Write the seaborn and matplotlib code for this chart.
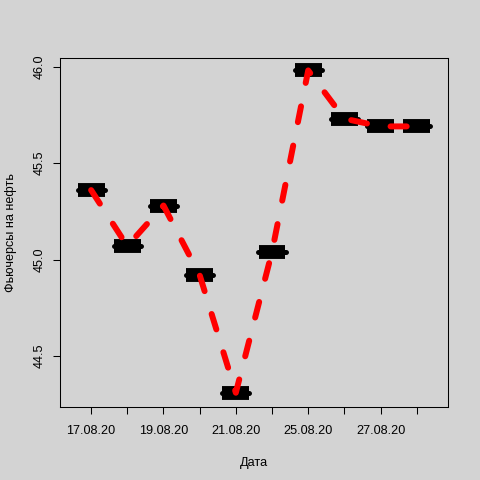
import numpy as np
import pandas as pd
import matplotlib
matplotlib.use("Agg")
import matplotlib.pyplot as plt
import seaborn as sns

# -----------------------------
# Data
# -----------------------------
dates = ["17.08.20", "18.08.20", "19.08.20", "20.08.20", "21.08.20",
         "24.08.20", "25.08.20", "26.08.20", "27.08.20", "28.08.20"]
prices = [45.36, 45.07, 45.28, 44.92, 44.31, 45.04, 45.98, 45.73, 45.69, 45.69]
y_ticks = [44.5, 45.0, 45.5, 46.0]

df = pd.DataFrame({"idx": np.arange(1, len(dates) + 1), "price": prices})

# -----------------------------
# Style
# -----------------------------
bg = "#D3D3D3"
sns.set_style("ticks", {"axes.facecolor": bg, "figure.facecolor": bg,
                        "axes.edgecolor": "black", "text.color": "black",
                        "axes.labelcolor": "black", "xtick.color": "black",
                        "ytick.color": "black"})
plt.rcParams["font.family"] = ["Liberation Sans", "DejaVu Sans"]
fs = 9.1

fig = plt.figure(figsize=(4.8, 4.8), dpi=100)
ax = fig.add_axes([0.125, 0.152, 0.808, 0.727])

# black bars at each level
ax.hlines(df["price"], df["idx"] - 0.37, df["idx"] + 0.37,
          color="black", linewidth=10, capstyle="butt", zorder=2)
ax.hlines(df["price"], df["idx"] - 0.375, df["idx"] + 0.375,
          color="black", linewidth=3.6, capstyle="round", zorder=2)

# red dashed line
sns.lineplot(data=df, x="idx", y="price", ax=ax, color="red",
             linewidth=4.3, zorder=3)
line = ax.lines[-1]
line.set_dashes((2.7, 4.0))
line.set_dash_capstyle("round")

ax.set_xlim(0.14, 10.86)
ax.set_ylim(44.236, 46.044)

ax.set_xticks(df["idx"])
ax.set_xticklabels([d if i % 2 == 0 else "" for i, d in enumerate(dates)],
                   fontsize=fs)
ax.set_yticks(y_ticks)
ax.set_yticklabels([f"{v:.1f}" for v in y_ticks], fontsize=fs,
                   rotation=90, va="center")
ax.tick_params(axis="both", length=5, width=0.75, color="black", pad=5)
ax.tick_params(axis="x", pad=8)

for s in ax.spines.values():
    s.set_visible(True)
    s.set_linewidth(0.75)

ax.set_xlabel("Дата", fontsize=fs, labelpad=14)
ax.set_ylabel("Фьючерсы на нефть", fontsize=fs, labelpad=12)

fig.savefig("out.png", dpi=100, facecolor=bg)
